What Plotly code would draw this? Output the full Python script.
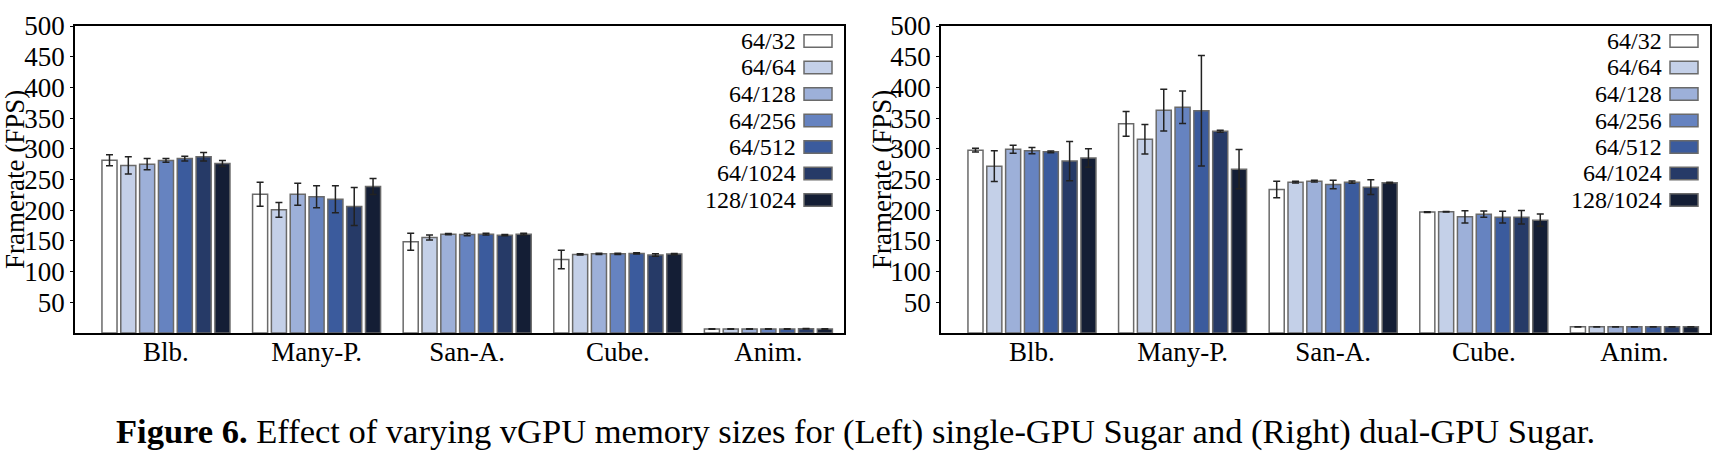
import plotly.graph_objects as go

categories = ["Blb.", "Many-P.", "San-A.", "Cube.", "Anim."]
configs = ["64/32", "64/64", "64/128", "64/256", "64/512", "64/1024", "128/1024"]
colors = ["#ffffff", "#c4d0e8", "#9db0d9", "#6683c0", "#3b5b9d", "#263a67", "#141e35"]

# Left: single-GPU Sugar (mean FPS per config, per benchmark)
left_vals = {
    "64/32":    [281.5, 226, 148.6, 119.8, 6.5],
    "64/64":    [273, 200.7, 155.6, 128, 6.5],
    "64/128":   [275, 226, 161, 129, 6.5],
    "64/256":   [281, 222, 160.5, 129, 6.5],
    "64/512":   [284, 218, 161, 129.6, 6.5],
    "64/1024":  [287, 206, 159.4, 127, 7],
    "128/1024": [276, 238.6, 161, 128.5, 6.5],
}
left_err = {
    "64/32":    [9, 19.5, 14, 15, 0.3],
    "64/64":    [14, 12, 4, 1, 0.3],
    "64/128":   [9, 18, 1, 1, 0.3],
    "64/256":   [3, 18, 2, 1, 0.3],
    "64/512":   [4, 22, 1.5, 1, 0.3],
    "64/1024":  [7, 31, 1, 2, 0.3],
    "128/1024": [5, 13, 1.5, 1, 0.3],
}
# Right: dual-GPU Sugar
right_vals = {
    "64/32":    [297.7, 340.6, 233.7, 196.9, 10],
    "64/64":    [271.7, 315.6, 245.7, 197.4, 10],
    "64/128":   [299.3, 362.8, 247.3, 189.2, 10],
    "64/256":   [297, 367.7, 241.9, 193.6, 10],
    "64/512":   [295, 362, 245.7, 188.7, 10],
    "64/1024":  [280, 328.6, 237.5, 188.7, 10],
    "128/1024": [285, 266.8, 244.6, 183.8, 10],
}
right_err = {
    "64/32":    [3, 20, 13.5, 0.5, 0.3],
    "64/64":    [25, 24, 1.5, 0.5, 0.3],
    "64/128":   [6.5, 34, 1.5, 10, 0.3],
    "64/256":   [5, 26.5, 7, 5, 0.3],
    "64/512":   [1.5, 90, 2, 9.5, 0.3],
    "64/1024":  [32, 1.5, 12, 11, 0.3],
    "128/1024": [15, 32, 1, 10, 0.3],
}

y_ticks = [50, 100, 150, 200, 250, 300, 350, 400, 450, 500]
y_title = "Framerate (FPS)"
caption = ("<b>Figure 6.</b> Effect of varying vGPU memory sizes for (Left) "
           "single-GPU Sugar and (Right) dual-GPU Sugar.")

FONT = "Liberation Serif"
FS = 27
LEG_FS = 24
OUTLINE = "#6a6a6a"
W, H = 1729, 455

fig = go.Figure()
for vals, errs, xa, ya in [
        (left_vals, left_err, "x", "y"),
        (right_vals, right_err, "x2", "y2")]:
    for cfg, col in zip(configs, colors):
        fig.add_trace(go.Bar(
            x=categories, y=vals[cfg], name=cfg, xaxis=xa, yaxis=ya,
            marker=dict(color=col, line=dict(color=OUTLINE, width=1.5)),
            error_y=dict(type="data", array=errs[cfg], color="#222222",
                         thickness=1.5, width=3.5),
            showlegend=False, hoverinfo="skip",
        ))

PT, PB = 26, 333
ydom = [1 - PB / H, 1 - PT / H]
xdom1 = [75 / W, 844 / W]
xdom2 = [941 / W, 1710 / W]
xrange = [-0.604, 4.502]

axis_common_x = dict(
    type="category", range=xrange, showline=True, linecolor="#000000",
    linewidth=1.5, mirror=True, ticks="", showgrid=False, zeroline=False,
    automargin=False, ticklabelstandoff=-6,
    tickfont=dict(family=FONT, size=FS, color="#000"),
)
axis_common_y = dict(
    range=[0, 500], tickvals=y_ticks, showline=True, linecolor="#000000",
    linewidth=1.5, mirror=True, ticks="outside", ticklen=3, tickcolor="#000",
    showgrid=False, zeroline=False, automargin=False,
    tickfont=dict(family=FONT, size=FS, color="#000"),
)

fig.update_layout(
    width=W, height=H,
    margin=dict(l=0, r=0, t=0, b=0, autoexpand=False),
    paper_bgcolor="white", plot_bgcolor="white",
    barmode="group", bargap=0.125, bargroupgap=0.2,
    xaxis=dict(domain=xdom1, anchor="y", **axis_common_x),
    yaxis=dict(domain=ydom, anchor="x", **axis_common_y),
    xaxis2=dict(domain=xdom2, anchor="y2", **axis_common_x),
    yaxis2=dict(domain=ydom, anchor="x2", **axis_common_y),
    font=dict(family=FONT, size=FS, color="#000"),
)

shapes = []
annotations = []
PH = PB - PT
for xa, ya, tx in [("x", "y", 15 / W), ("x2", "y2", 882 / W)]:
    # y-axis title
    annotations.append(dict(
        xref="paper", yref="paper", x=tx, y=1 - 180 / H,
        xanchor="center", yanchor="middle", text=y_title, textangle=-90,
        showarrow=False, font=dict(family=FONT, size=FS, color="#000"),
    ))
    # legend inside panel: label then swatch to its right
    for i, (cfg, col) in enumerate(zip(configs, colors)):
        yc = (PB - 41 - i * 26.5) / PH
        annotations.append(dict(
            xref=f"{xa} domain", yref=f"{ya} domain", x=0.9385, y=yc,
            xanchor="right", yanchor="middle", text=cfg, showarrow=False,
            borderpad=0,
            font=dict(family=FONT, size=LEG_FS, color="#000"),
        ))
        shapes.append(dict(
            type="rect", xref=f"{xa} domain", yref=f"{ya} domain",
            x0=0.948, x1=0.9844, y0=yc - 6.3 / PH, y1=yc + 6.3 / PH,
            fillcolor=col, line=dict(color=OUTLINE, width=1.5),
        ))

annotations.append(dict(
    xref="paper", yref="paper", x=0.495, y=1 - 431 / H,
    xanchor="center", yanchor="middle", text=caption, showarrow=False,
    font=dict(family=FONT, size=34.5, color="#000"),
))
fig.update_layout(shapes=shapes, annotations=annotations)

fig.write_html(
    "out.html",
    config={"displayModeBar": False},
    post_script="document.body.style.margin='0';document.body.style.overflow='hidden';",
)
